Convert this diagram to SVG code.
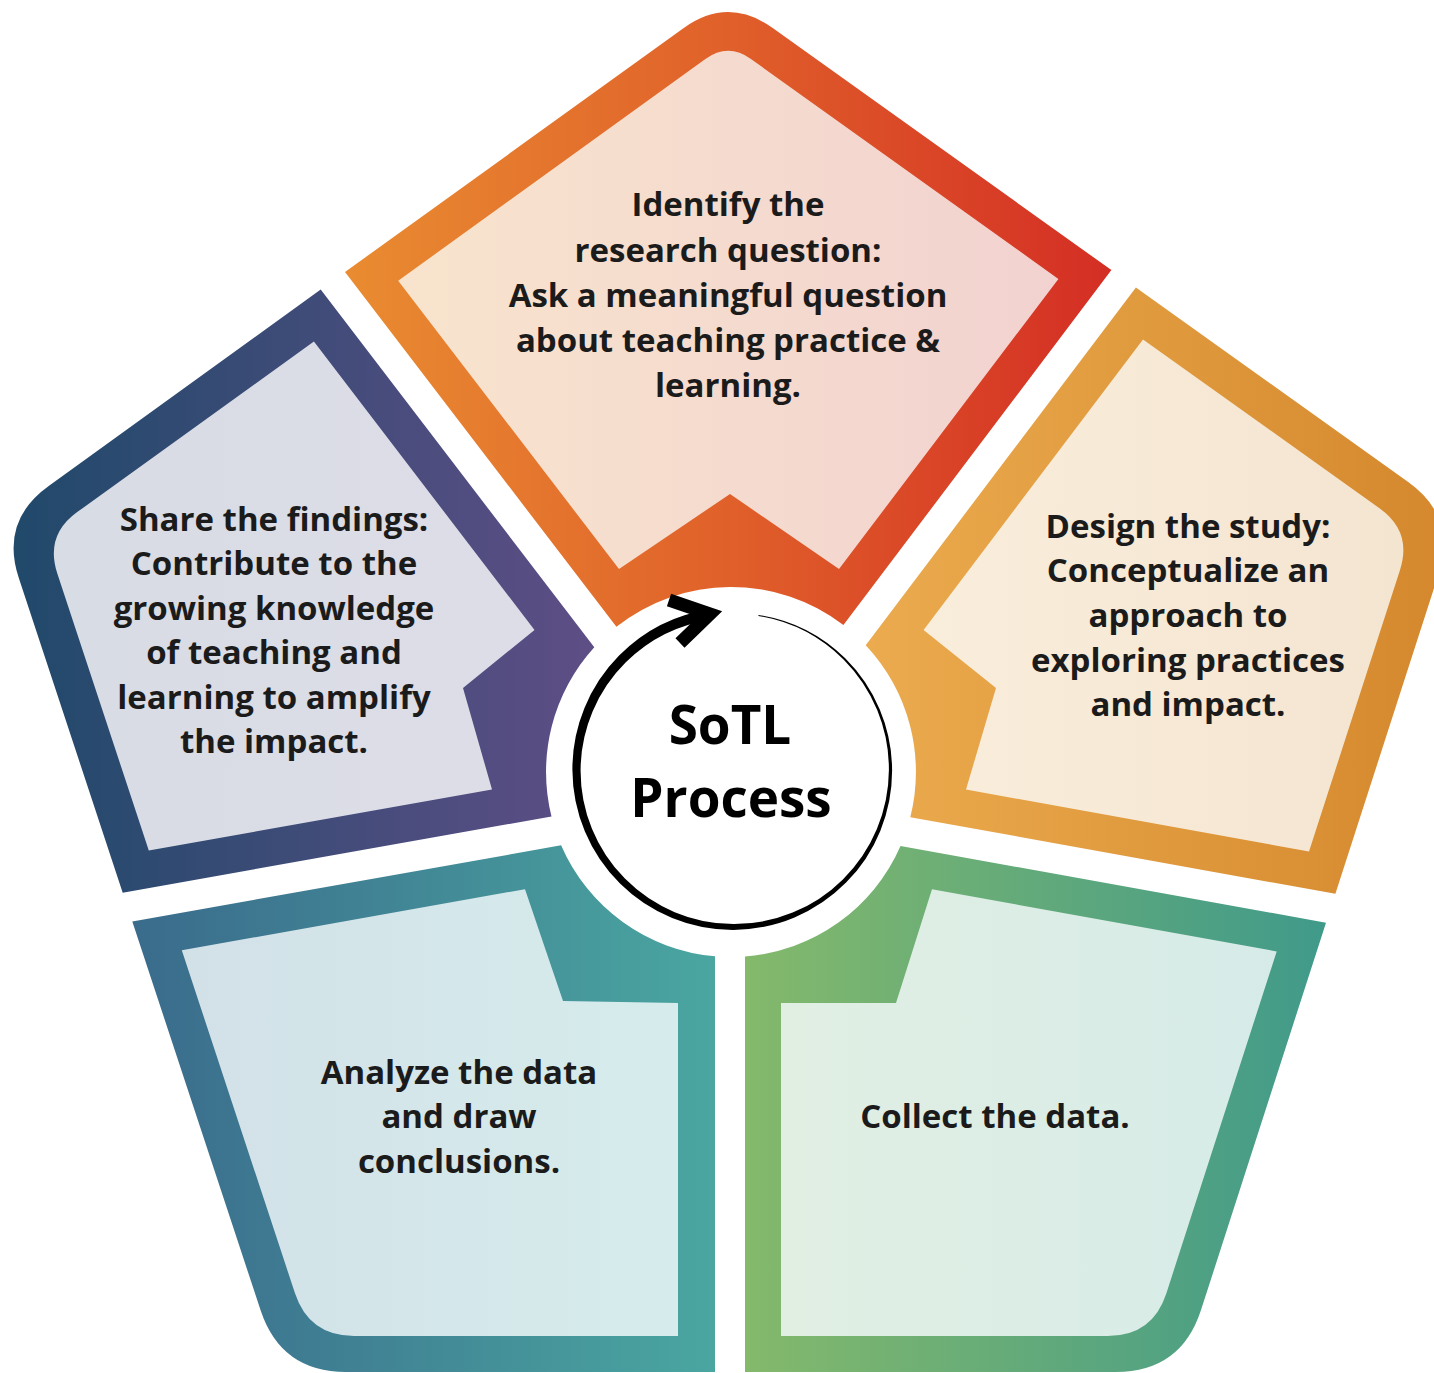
<svg xmlns="http://www.w3.org/2000/svg" width="1434" height="1373" viewBox="0 0 1434 1373">
<defs>
<linearGradient id="gTopO" x1="0" y1="0" x2="1" y2="0"><stop offset="0" stop-color="#E98C31"/><stop offset="0.5" stop-color="#E0602A"/><stop offset="1" stop-color="#D42E24"/></linearGradient>
<linearGradient id="gTopI" x1="0" y1="0" x2="1" y2="0"><stop offset="0" stop-color="#F8E4CD"/><stop offset="1" stop-color="#F2D2D0"/></linearGradient>
<linearGradient id="gRightO" x1="0" y1="0" x2="1" y2="0"><stop offset="0" stop-color="#EBAB4E"/><stop offset="1" stop-color="#D5882D"/></linearGradient>
<linearGradient id="gRightI" x1="0" y1="0" x2="1" y2="0"><stop offset="0" stop-color="#F9EDDB"/><stop offset="1" stop-color="#F4E5D1"/></linearGradient>
<linearGradient id="gLeftO" x1="0" y1="0" x2="1" y2="0"><stop offset="0" stop-color="#20496A"/><stop offset="1" stop-color="#5E4E86"/></linearGradient>
<linearGradient id="gLeftI" x1="0" y1="0" x2="1" y2="0"><stop offset="0" stop-color="#D8DCE4"/><stop offset="1" stop-color="#DDDDE8"/></linearGradient>
<linearGradient id="gBLO" x1="0" y1="0" x2="1" y2="0"><stop offset="0" stop-color="#3A6B8C"/><stop offset="1" stop-color="#4AA6A0"/></linearGradient>
<linearGradient id="gBLI" x1="0" y1="0" x2="1" y2="0"><stop offset="0" stop-color="#D2E1E8"/><stop offset="1" stop-color="#D6ECEC"/></linearGradient>
<linearGradient id="gBRO" x1="0" y1="0" x2="1" y2="0"><stop offset="0" stop-color="#84B96B"/><stop offset="1" stop-color="#409A8A"/></linearGradient>
<linearGradient id="gBRI" x1="0" y1="0" x2="1" y2="0"><stop offset="0" stop-color="#E1EFE3"/><stop offset="1" stop-color="#D6EBE8"/></linearGradient>
</defs>
<style>
.lbl{font-family:"Open Sans","Liberation Sans",sans-serif;font-weight:700;font-size:33px;fill:#1B1B1B;text-anchor:middle}
.ctr{font-family:"Open Sans","Liberation Sans",sans-serif;font-weight:700;font-size:53px;fill:#000;text-anchor:middle}
</style>
<rect x="0" y="0" width="1434" height="1373" fill="#FFFFFF"/>

<g id="node-identify">
<path d="M345,272 L683.4,28.2 Q728,-4 772.7,28 L1111.4,270.1 L843.4,625 A185 185 0 0 0 616.4,626.8 Z" fill="url(#gTopO)"/>
<path d="M398.2,280.7 L705.4,59.1 Q728.1,42.7 750.9,59 L1058.4,278.9 L839,569 L730,494 L619,569 Z" fill="url(#gTopI)"/>
<text class="lbl" x="728" y="216">Identify the</text>
<text class="lbl" x="728" y="262">research question:</text>
<text class="lbl" x="728" y="307">Ask a meaningful question</text>
<text class="lbl" x="728" y="352">about teaching practice &amp;</text>
<text class="lbl" x="728" y="397">learning.</text>
</g>

<g id="node-design">
<path d="M1135.9,287.5 L1408.2,482.1 Q1457,517 1438.6,574.1 L1335.4,893.8 L910.3,817.2 A185 185 0 0 0 865.7,645.2 Z" fill="url(#gRightO)"/>
<path d="M1143,339.4 L1379.8,508.5 Q1412.3,531.8 1400,569.9 L1309,851.5 L966,789.5 L996,688 L923.6,630 Z" fill="url(#gRightI)"/>
<text class="lbl" x="1188" y="538">Design the study:</text>
<text class="lbl" x="1188" y="582">Conceptualize an</text>
<text class="lbl" x="1188" y="627">approach to</text>
<text class="lbl" x="1188" y="672">exploring practices</text>
<text class="lbl" x="1188" y="716">and impact.</text>
</g>

<g id="node-collect">
<path d="M1326,922.7 L1201,1310.1 Q1181,1372 1116,1372 L745,1372 L745,956.5 A185 185 0 0 0 900.5,846 Z" fill="url(#gBRO)"/>
<path d="M932,889.3 L1276.7,951.4 L1166.4,1293.2 Q1152.6,1336 1107.6,1336 L781,1336 L781,1003 L896,1003 Z" fill="url(#gBRI)"/>
<text class="lbl" x="995" y="1128">Collect the data.</text>
</g>

<g id="node-analyze">
<path d="M715,956.3 L715,1372 L346,1372 Q281,1372 260.6,1310.3 L132.3,921.5 L561.1,845.3 A185 185 0 0 0 715,956.3 Z" fill="url(#gBLO)"/>
<path d="M181.8,950.3 L525,889.2 L563,1001 L678,1003 L678,1336 L354.1,1336 Q309.1,1336 295,1293.3 Z" fill="url(#gBLI)"/>
<text class="lbl" x="459" y="1084">Analyze the data</text>
<text class="lbl" x="459" y="1128">and draw</text>
<text class="lbl" x="459" y="1173">conclusions.</text>
</g>

<g id="node-share">
<path d="M320.7,289.6 L594.3,647.3 A185 185 0 0 0 551.5,816.5 L122.7,892.7 L18.8,578 Q0,521 48.7,485.9 Z" fill="url(#gLeftO)"/>
<path d="M313.9,341.6 L534.5,630 L463,688 L492,789.5 L148.8,850.5 L57.3,573.5 Q44.8,535.5 77.2,512.1 Z" fill="url(#gLeftI)"/>
<text class="lbl" x="274" y="531">Share the findings:</text>
<text class="lbl" x="274" y="575">Contribute to the</text>
<text class="lbl" x="274" y="620">growing knowledge</text>
<text class="lbl" x="274" y="664">of teaching and</text>
<text class="lbl" x="274" y="709">learning to amplify</text>
<text class="lbl" x="274" y="753">the impact.</text>
</g>

<g id="node-center">
<text class="ctr" x="730" y="744">SoTL</text>
<text class="ctr" x="731" y="817">Process</text>
</g>

<g id="connectors">
<path d="M758.5,614.9 A157.7 157.7 0 0 1 845.2,658.3 A158.3 158.3 0 0 1 892.1,770 A158.9 158.9 0 0 1 846.1,882.6 A159.5 159.5 0 0 1 733.5,929.9 A160.2 160.2 0 0 1 620,883.5 A160.8 160.8 0 0 1 572.4,770 A161.4 161.4 0 0 1 619.1,655.6 A162 162 0 0 1 710.9,609.3 L712.4,619.7 A152 152 0 0 0 625.8,662.3 A152.6 152.6 0 0 0 580.6,770 A153.2 153.2 0 0 0 624.9,878.6 A153.8 153.8 0 0 0 733.5,924.1 A154.5 154.5 0 0 0 842.9,879.4 A155.1 155.1 0 0 0 888.9,770 A155.7 155.7 0 0 0 843.8,659.7 A156.3 156.3 0 0 0 758.4,615.9 Z" fill="#000"/>
<polyline points="669,600 710,614 680,643" fill="none" stroke="#000" stroke-width="13" stroke-linejoin="miter" stroke-miterlimit="6"/>
</g>
</svg>
